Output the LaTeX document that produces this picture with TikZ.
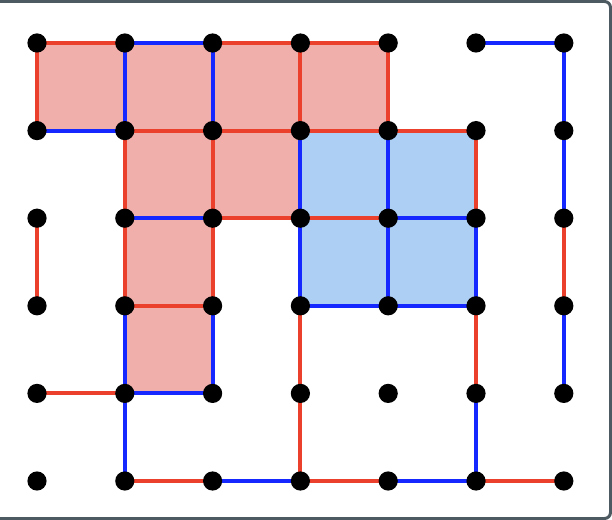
\documentclass[tikz,border=0pt]{standalone}
\usepackage{tikz}
\usetikzlibrary{backgrounds}

\begin{document}
\begin{tikzpicture}[x=1mm, y=1mm,
  dot/.style={circle, fill=black, inner sep=0pt, minimum size=4.8mm},
  redge/.style={draw=rline, line width=1mm},
  bedge/.style={draw=bline, line width=1mm},
  rcell/.style={fill=rfill},
  bcell/.style={fill=bfill},
  frame/.style={draw=framec, line width=0.75mm, rounded corners=1.5mm},
]
\definecolor{rline}{HTML}{EA402C}
\definecolor{bline}{HTML}{1428FF}
\definecolor{rfill}{HTML}{F1AFAC}
\definecolor{bfill}{HTML}{AECFF4}
\definecolor{framec}{HTML}{4E5A62}

\useasboundingbox (-9.25,10.75) rectangle (143.75,-119.25);
\draw[frame] (-12.5,10.375) rectangle (143.375,-118.875);

% ---------------- grid points ----------------
\foreach \i in {0,...,6}
  \foreach \j in {0,...,5}
    \node[dot] (d\i\j) at (21.95*\i, -21.9*\j) {};

\begin{scope}[on background layer]
% ---------------- shaded cells ----------------
\fill[rcell] (d00.center) -- (d40.center) -- (d41.center) -- (d31.center) -- (d32.center)
  -- (d22.center) -- (d24.center) -- (d14.center) -- (d11.center) -- (d01.center) -- cycle;
\fill[bcell] (d31.center) -- (d51.center) -- (d53.center) -- (d33.center) -- cycle;
% ---------------- red edges ----------------
\foreach \a/\b in {00/10, 20/30, 30/40, 11/21, 21/31, 31/41, 41/51, 22/32, 32/42,
    13/23, 04/14, 15/25, 35/45, 55/65,
    00/01, 02/03, 11/12, 12/13, 21/22, 22/23, 30/31, 33/34, 34/35,
    40/41, 51/52, 53/54, 62/63}
  \draw[redge] (d\a.center) -- (d\b.center);
% ---------------- blue edges ----------------
\foreach \a/\b in {10/20, 50/60, 01/11, 12/22, 42/52, 33/43, 43/53, 14/24, 25/35, 45/55,
    10/11, 13/14, 14/15, 20/21, 23/24, 31/32, 32/33, 41/42, 42/43,
    52/53, 54/55, 60/61, 61/62, 63/64}
  \draw[bedge] (d\a.center) -- (d\b.center);
\end{scope}
\end{tikzpicture}
\end{document}
